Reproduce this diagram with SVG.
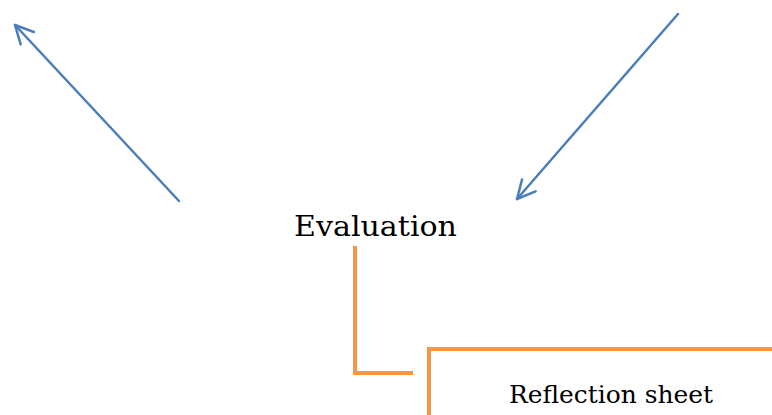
<svg xmlns="http://www.w3.org/2000/svg" width="772" height="415" viewBox="0 0 772 415">
  <style>
    .flow { fill: none; stroke: #4A7EBB; stroke-width: 2.5; stroke-linecap: round; }
    .bracket { fill: none; stroke: #F79646; stroke-width: 4; }
    .label { font-family: "DejaVu Serif", "Liberation Serif", serif; fill: #000; text-anchor: middle; }
  </style>
  <defs>
    <marker id="openArrow" markerUnits="userSpaceOnUse" markerWidth="24" markerHeight="24" viewBox="-20 -12 24 24" refX="0" refY="0" orient="auto">
      <path d="M-18,-9 L0,0 L-18,9" fill="none" stroke="#4A7EBB" stroke-width="2.5" stroke-linecap="round" stroke-linejoin="round"/>
    </marker>
  </defs>
  <rect width="772" height="415" fill="#ffffff"/>

  <g id="connectors">
    <line class="flow" x1="179" y1="201" x2="15" y2="25" marker-end="url(#openArrow)"/>
    <line class="flow" x1="678" y1="14" x2="517" y2="199" marker-end="url(#openArrow)"/>
    <polyline class="bracket" points="355,246 355,373 413,373"/>
  </g>

  <g id="evaluation">
    <text class="label" x="375.5" y="236" font-size="28" textLength="163" lengthAdjust="spacingAndGlyphs">Evaluation</text>
  </g>

  <g id="reflection-sheet">
    <rect class="bracket" x="429" y="349" width="400" height="100"/>
    <text class="label" x="611" y="403" font-size="25" textLength="204" lengthAdjust="spacingAndGlyphs">Reflection sheet</text>
  </g>
</svg>
